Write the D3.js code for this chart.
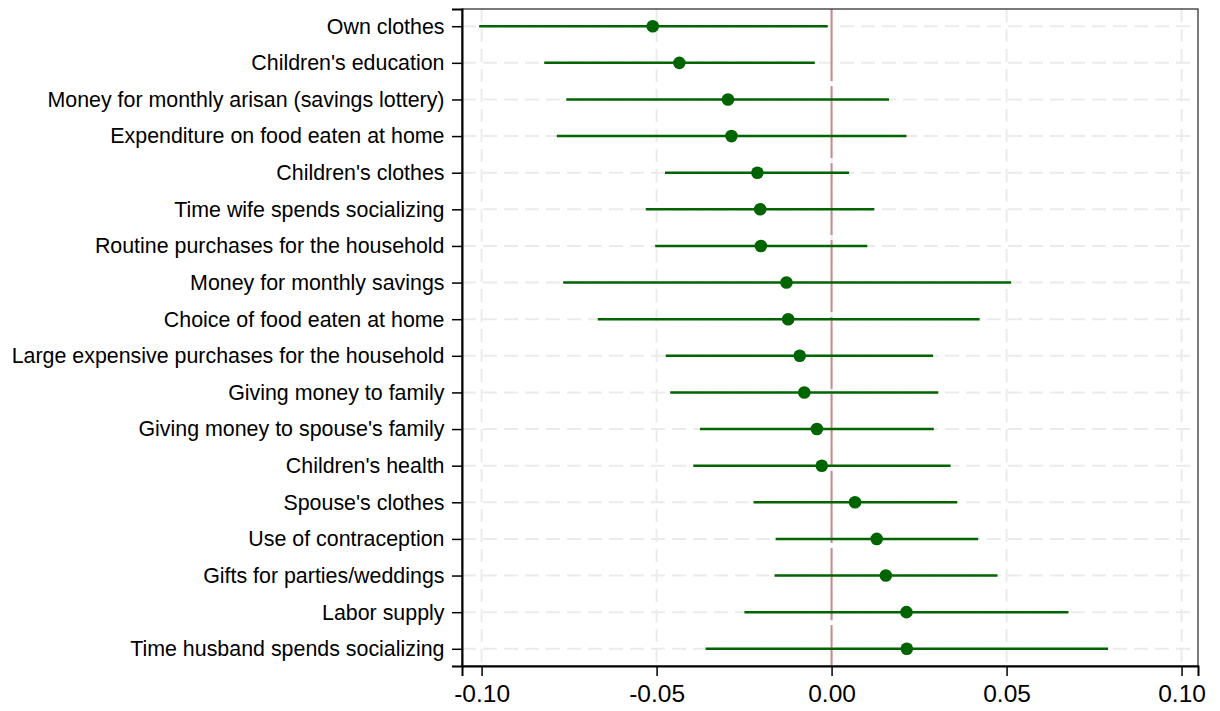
<!DOCTYPE html>
<html>
<head>
<meta charset="utf-8">
<script src="https://cdn.jsdelivr.net/npm/d3@7"></script>
<style>
  body { margin: 0; background: #fff; }
  text { font-family: "Liberation Sans", Arial, Helvetica, sans-serif; }
</style>
</head>
<body>
<svg width="1220" height="711"></svg>
<script>
const svg = d3.select("svg")

const width = + svg.attr("width")
const height = + svg.attr("height")

const margin = {top: 9, right: 22, bottom: 45, left: 462}
const innerWidth = width - margin.left - margin.right
const innerHeight = height - margin.top - margin.bottom

// outcomes, top to bottom
const categories = [
    "Own clothes",
    "Children's education",
    "Money for monthly arisan (savings lottery)",
    "Expenditure on food eaten at home",
    "Children's clothes",
    "Time wife spends socializing",
    "Routine purchases for the household",
    "Money for monthly savings",
    "Choice of food eaten at home",
    "Large expensive purchases for the household",
    "Giving money to family",
    "Giving money to spouse's family",
    "Children's health",
    "Spouse's clothes",
    "Use of contraception",
    "Gifts for parties/weddings",
    "Labor supply",
    "Time husband spends socializing"
]

// point estimates and 95% CI bounds
const estimates = [-0.0511, -0.0435, -0.0296, -0.0286, -0.0212, -0.0204, -0.0202, -0.0129, -0.0124,
                   -0.0091, -0.0078, -0.0042, -0.0028, 0.0067, 0.0129, 0.0155, 0.0214, 0.0215]
const lower = [-0.1007, -0.0821, -0.0758, -0.0785, -0.0476, -0.0531, -0.0504, -0.0767, -0.0668,
               -0.0474, -0.0461, -0.0376, -0.0395, -0.0223, -0.0160, -0.0163, -0.0249, -0.0360]
const upper = [-0.0011, -0.0048, 0.0164, 0.0214, 0.0050, 0.0122, 0.0102, 0.0513, 0.0423,
               0.0290, 0.0305, 0.0292, 0.0340, 0.0359, 0.0419, 0.0474, 0.0677, 0.0790]

const xTicks = [-0.10, -0.05, 0.00, 0.05, 0.10]

const data = categories.map((c, i) => ({name: c, est: estimates[i], lo: lower[i], hi: upper[i]}))

const xScale = d3.scaleLinear()
      .domain([-0.1056, 0.1047])
      .range([0, innerWidth])

const yScale = d3.scalePoint()
      .domain(categories)
      .range([0, innerHeight])
      .padding(0.47)

const g = svg.append("g")
      .attr("transform", `translate(${margin.left}, ${margin.top})`)

// grid
g.selectAll(".vgrid").data(xTicks).enter().append("line")
    .attr("x1", d => xScale(d)).attr("x2", d => xScale(d))
    .attr("y1", 0).attr("y2", innerHeight)
    .attr("stroke", "#ebebeb").attr("stroke-width", 2)
    .attr("stroke-dasharray", "13,7")

g.selectAll(".hgrid").data(categories).enter().append("line")
    .attr("x1", 0).attr("x2", innerWidth)
    .attr("y1", d => yScale(d)).attr("y2", d => yScale(d))
    .attr("stroke", "#ebebeb").attr("stroke-width", 2)
    .attr("stroke-dasharray", "14,7")

// zero line
g.append("line")
    .attr("x1", xScale(0)).attr("x2", xScale(0))
    .attr("y1", 0).attr("y2", innerHeight)
    .attr("stroke", "#c98a8e").attr("stroke-width", 2)
    .attr("stroke-dasharray", "72,5")

// confidence intervals
g.selectAll(".ci").data(data).enter().append("line")
    .attr("x1", d => xScale(d.lo)).attr("x2", d => xScale(d.hi))
    .attr("y1", d => yScale(d.name)).attr("y2", d => yScale(d.name))
    .attr("stroke", "#006400").attr("stroke-width", 2.5)

g.selectAll(".pt").data(data).enter().append("circle")
    .attr("cx", d => xScale(d.est))
    .attr("cy", d => yScale(d.name))
    .attr("r", 6.3)
    .attr("fill", "#006400")

// frame (top / right)
g.append("rect")
    .attr("x", 0).attr("y", 0)
    .attr("width", innerWidth).attr("height", innerHeight)
    .attr("fill", "none").attr("stroke", "#222").attr("stroke-width", 1.2)

// axes
const yAxis = g.append("g")
    .call(d3.axisLeft(yScale).tickSize(10).tickPadding(7.5))
yAxis.select(".domain").attr("stroke", "#000").attr("stroke-width", 2)
yAxis.selectAll(".tick line").attr("stroke", "#000").attr("stroke-width", 1.5)
yAxis.selectAll("text").attr("font-size", 21.4).attr("fill", "#000")
    .attr("font-family", "'Liberation Sans', Arial, Helvetica, sans-serif")

const xAxis = g.append("g")
    .attr("transform", `translate(0, ${innerHeight})`)
    .call(d3.axisBottom(xScale).tickValues(xTicks).tickFormat(d3.format(".2f")).tickSize(10).tickPadding(9))
xAxis.select(".domain").attr("stroke", "#000").attr("stroke-width", 2)
xAxis.selectAll(".tick line").attr("stroke", "#000").attr("stroke-width", 1.5)
xAxis.selectAll("text").attr("font-size", 24.5).attr("fill", "#000")
    .attr("font-family", "'Liberation Sans', Arial, Helvetica, sans-serif")
    .text(d => d3.format(".2f")(d).replace("−", "-"))
</script>
</body>
</html>
